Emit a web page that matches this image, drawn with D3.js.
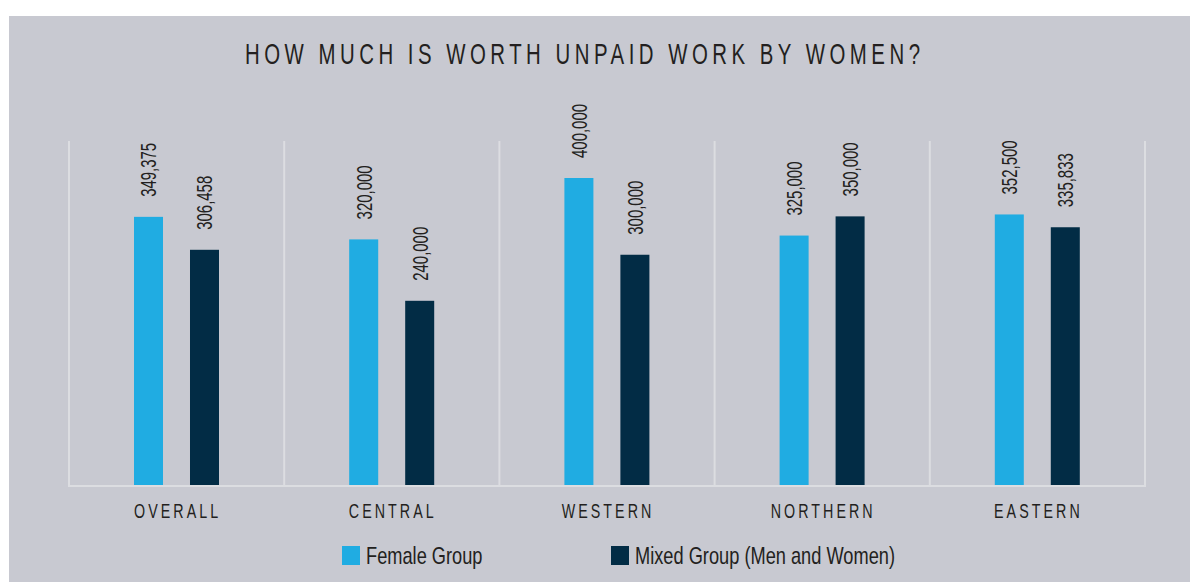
<!DOCTYPE html>
<html>
<head>
<meta charset="utf-8">
<script src="https://cdn.jsdelivr.net/npm/d3@7"></script>
<style>
  body { margin: 0; background: #ffffff; }
  svg text { font-family: "Liberation Sans", Arial, sans-serif; fill: #231f20; }
</style>
</head>
<body>
<div id="chart"></div>
<script>
var regions = ["OVERALL", "CENTRAL", "WESTERN", "NORTHERN", "EASTERN"];
var seriesNames = ["Female Group", "Mixed Group (Men and Women)"];
var femaleValues = [349375, 320000, 400000, 325000, 352500];
var mixedValues = [306458, 240000, 300000, 350000, 335833];
var colors = ["#20ace2", "#022c45"];

var width = 1190, height = 582;
var squeeze = 0.68; // the original uses a condensed face, we narrow Liberation Sans

var svg = d3.select("#chart")
  .append("svg")
    .attr("width", width)
    .attr("height", height);

// grey panel
svg.append("rect")
  .attr("x", 9).attr("y", 16)
  .attr("width", width - 9).attr("height", height - 16)
  .style("fill", "#c8c9d1");

svg.append("text")
  .attr("transform", "translate(245,64) scale(" + squeeze + ",1)")
  .attr("textLength", 675 / squeeze)
  .attr("lengthAdjust", "spacing")
  .style("font-size", "30px")
  .text("HOW MUCH IS WORTH UNPAID WORK BY WOMEN?");

var x = d3.scaleBand()
  .domain(regions)
  .range([69, 1145])
  .padding(0);

var xInner = d3.scaleBand()
  .domain(seriesNames)
  .range([65, 150])
  .paddingInner(0.482)
  .paddingOuter(0);

var y = d3.scaleLinear()
  .domain([0, 400000])
  .range([485, 178]);

// frame lines between regions
var bounds = regions.map(function(r) { return x(r); }).concat([x.range()[1]]);
svg.selectAll("line.divider")
  .data(bounds)
  .enter()
  .append("line")
    .attr("class", "divider")
    .attr("x1", function(d) { return d; })
    .attr("x2", function(d) { return d; })
    .attr("y1", 141)
    .attr("y2", 486)
    .style("stroke", "#dcdde1")
    .style("stroke-width", 2);

svg.append("line")
  .attr("x1", 68).attr("x2", 1146)
  .attr("y1", 486).attr("y2", 486)
  .style("stroke", "#dcdde1")
  .style("stroke-width", 2);

var rows = [];
for (var i = 0; i < regions.length; i++) {
  rows.push({region: regions[i], series: seriesNames[0], value: femaleValues[i], color: colors[0]});
  rows.push({region: regions[i], series: seriesNames[1], value: mixedValues[i], color: colors[1]});
}

svg.selectAll("rect.bar")
  .data(rows)
  .enter()
  .append("rect")
    .attr("class", "bar")
    .attr("x", function(d) { return x(d.region) + xInner(d.series); })
    .attr("y", function(d) { return y(d.value); })
    .attr("width", xInner.bandwidth())
    .attr("height", function(d) { return y(0) - y(d.value); })
    .style("fill", function(d) { return d.color; });

// value labels, rotated
svg.selectAll("text.value")
  .data(rows)
  .enter()
  .append("text")
    .attr("class", "value")
    .attr("transform", function(d) {
      var cx = x(d.region) + xInner(d.series) + xInner.bandwidth() / 2;
      return "translate(" + cx + "," + (y(d.value) - 20) + ") rotate(-90) scale(" + squeeze + ",1)";
    })
    .attr("dy", "0.36em")
    .style("font-size", "22px")
    .text(function(d) { return d3.format(",")(d.value); });

// category labels
svg.selectAll("text.cat")
  .data(regions)
  .enter()
  .append("text")
    .attr("class", "cat")
    .attr("transform", function(d) {
      return "translate(" + (x(d) + x.bandwidth() / 2 + 1) + ",518) scale(" + squeeze + ",1)";
    })
    .attr("text-anchor", "middle")
    .style("font-size", "21px")
    .style("letter-spacing", "4.5px")
    .text(function(d) { return d; });

// legend
var legendX = [342, 611];
var legend = svg.selectAll("g.legend")
  .data(seriesNames)
  .enter()
  .append("g")
    .attr("class", "legend")
    .attr("transform", function(d, i) { return "translate(" + legendX[i] + ",546)"; });

legend.append("rect")
  .attr("width", 18)
  .attr("height", 19)
  .style("fill", function(d, i) { return colors[i]; });

legend.append("text")
  .attr("transform", "translate(24,18) scale(0.76,1)")
  .style("font-size", "24px")
  .text(function(d) { return d; });
</script>
</body>
</html>
